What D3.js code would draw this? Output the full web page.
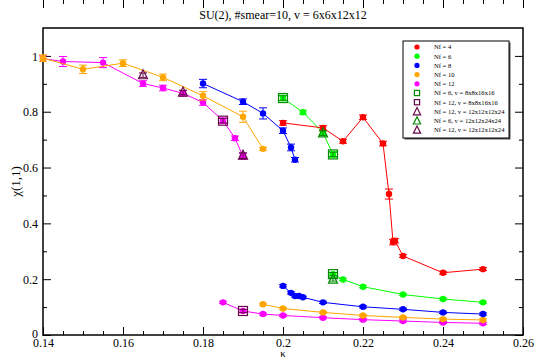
<!DOCTYPE html>
<html>
<head>
<meta charset="utf-8">
<script src="https://cdn.jsdelivr.net/npm/d3@7"></script>
<style>
  body { margin: 0; background: #fff; }
  text { font-family: "Liberation Serif", "Times New Roman", "DejaVu Serif", serif; }
</style>
</head>
<body>
<div id="chart"></div>
<script>
// chart values
var nf4K = [0.2, 0.21, 0.215, 0.22, 0.225, 0.2265, 0.2275, 0.228, 0.23, 0.24, 0.25];
var nf4Chi = [0.76, 0.742, 0.694, 0.78, 0.686, 0.505, 0.333, 0.338, 0.283, 0.223, 0.236];
var nf4Err = [0.008, 0.008, 0.007, 0.008, 0.008, 0.018, 0.01, 0.008, 0.005, 0.005, 0.005];

var nf6UpK = [0.2, 0.205, 0.21, 0.2125];
var nf6UpChi = [0.849, 0.798, 0.725, 0.647];
var nf6UpErr = [0.01, 0.007, 0.008, 0.01];
var nf6LoK = [0.2125, 0.215, 0.22, 0.23, 0.24, 0.25];
var nf6LoChi = [0.218, 0.199, 0.173, 0.145, 0.129, 0.117];

var nf8UpK = [0.18, 0.19, 0.195, 0.2, 0.202, 0.203];
var nf8UpChi = [0.901, 0.836, 0.794, 0.732, 0.672, 0.628];
var nf8UpErr = [0.015, 0.01, 0.02, 0.01, 0.012, 0.008];
var nf8LoK = [0.2, 0.202, 0.203, 0.204, 0.205, 0.21, 0.22, 0.23, 0.24, 0.25];
var nf8LoChi = [0.176, 0.151, 0.14, 0.14, 0.135, 0.117, 0.101, 0.092, 0.081, 0.075];

var nf10UpK = [0.14, 0.15, 0.16, 0.17, 0.18, 0.19, 0.195];
var nf10UpChi = [0.992, 0.952, 0.974, 0.923, 0.857, 0.782, 0.667];
var nf10UpErr = [0.012, 0.015, 0.012, 0.012, 0.015, 0.02, 0.005];
var nf10LoK = [0.195, 0.2, 0.21, 0.22, 0.23, 0.24, 0.25];
var nf10LoChi = [0.11, 0.095, 0.081, 0.07, 0.063, 0.057, 0.054];

var nf12UpK = [0.14, 0.145, 0.155, 0.165, 0.17, 0.175, 0.18, 0.185, 0.188, 0.19];
var nf12UpChi = [0.99, 0.98, 0.976, 0.901, 0.885, 0.866, 0.833, 0.768, 0.705, 0.64];
var nf12UpErr = [0.01, 0.018, 0.018, 0.01, 0.01, 0.01, 0.01, 0.01, 0.008, 0.01];
var nf12LoK = [0.185, 0.19, 0.195, 0.2, 0.21, 0.22, 0.23, 0.24, 0.25];
var nf12LoChi = [0.117, 0.086, 0.075, 0.07, 0.062, 0.055, 0.05, 0.045, 0.042];

// larger volumes (open symbols)
var sq6K = [0.2, 0.2125, 0.2125];
var sq6Chi = [0.849, 0.647, 0.218];
var sq12K = [0.185, 0.19];
var sq12Chi = [0.768, 0.086];
var tri12K = [0.165, 0.175, 0.19];
var tri12Chi = [0.931, 0.869, 0.643];
var tri6K = [0.21, 0.2125];
var tri6Chi = [0.723, 0.199];

var legendLabels = ["Nf = 4", "Nf = 6", "Nf = 8", "Nf = 10", "Nf = 12",
    "Nf = 6, v = 8x8x16x16", "Nf = 12, v = 8x8x16x16", "Nf = 12, v = 12x12x12x24",
    "Nf = 6, v = 12x12x24x24", "Nf = 12, v = 12x12x12x24"];

var xTicks = [0.14, 0.16, 0.18, 0.2, 0.22, 0.24, 0.26];
var yTicks = [0, 0.2, 0.4, 0.6, 0.8, 1];

var red = "#ff0000", green = "#00ff00", blue = "#0000ff", orange = "#ffa500",
    magenta = "#ff00ff", green4 = "#008b00", maroon = "#670748";
var serif = "'Liberation Serif', 'Times New Roman', 'DejaVu Serif', serif";

var svgWidth = 535;
var svgHeight = 359;
var margin = { top: 28, right: 12, bottom: 24, left: 43 };

var svg = d3.select("#chart")
    .append("svg")
    .attr("width", svgWidth)
    .attr("height", svgHeight)
    .attr("font-family", serif);

var x = d3.scaleLinear().domain([0.14, 0.26]).range([margin.left, svgWidth - margin.right]);
var y = d3.scaleLinear().domain([0, 1.1]).range([svgHeight - margin.bottom, margin.top]);

// frame
svg.append("rect")
    .attr("x", x(0.14)).attr("y", y(1.1))
    .attr("width", x(0.26) - x(0.14)).attr("height", y(0) - y(1.1))
    .attr("fill", "none").attr("stroke", "#000").attr("stroke-width", 1.5);

// ticks, pointing inwards on all four sides
var minorX = d3.range(0.145, 0.26, 0.005).filter(d => Math.abs(d * 100 / 2 - Math.round(d * 100 / 2)) > 0.01);
var minorY = [0.1, 0.3, 0.5, 0.7, 0.9];

function tickAxis(axisFn, scale, values, size, pos, labels) {
    var g = svg.append("g")
        .attr("transform", pos)
        .call(axisFn(scale).tickValues(values).tickSize(-size).tickPadding(3)
            .tickFormat(labels ? d3.format("~g") : ""));
    g.attr("font-family", serif);
    g.select(".domain").remove();
    g.selectAll("line").attr("stroke", "#000");
    g.selectAll("text").attr("fill", "#000").style("font-size", "12px");
    return g;
}
var bottom = `translate(0,${y(0)})`, top = `translate(0,${y(1.1)})`;
var left = `translate(${x(0.14)},0)`, right = `translate(${x(0.26)},0)`;
tickAxis(d3.axisBottom, x, xTicks, 8, bottom, true);
tickAxis(d3.axisBottom, x, minorX, 4, bottom, false);
tickAxis(d3.axisTop, x, xTicks, 8, top, false);
tickAxis(d3.axisTop, x, minorX, 4, top, false);
var yl = tickAxis(d3.axisLeft, y, yTicks, 8, left, true);
yl.selectAll("text").attr("x", -5).attr("dy", d => d === 0 ? "0.2em" : "0.35em");
tickAxis(d3.axisLeft, y, minorY, 4, left, false);
tickAxis(d3.axisRight, y, yTicks, 8, right, false);
tickAxis(d3.axisRight, y, minorY, 4, right, false);

// titles
svg.append("text")
    .attr("x", (x(0.14) + x(0.26)) / 2).attr("y", 19)
    .attr("text-anchor", "middle").style("font-size", "12px")
    .text("SU(2), #smear=10, v = 6x6x12x12");
svg.append("text")
    .attr("x", (x(0.14) + x(0.26)) / 2).attr("y", 357)
    .attr("text-anchor", "middle").style("font-size", "11px")
    .text("κ");
svg.append("text")
    .attr("transform", `translate(20,${(y(0) + y(1.1)) / 2}) rotate(-90)`)
    .attr("text-anchor", "middle").style("font-size", "13px")
    .text("χ(1,1)");

function zip(ks, chis, errs) {
    return ks.map((k, i) => ({ k: k, chi: chis[i], err: errs ? errs[i] : 0.004 }));
}

var line = d3.line().x(d => x(d.k)).y(d => y(d.chi));
var plot = svg.append("g");

function errorBars(g, data, color) {
    var eb = g.append("g").attr("stroke", color).attr("stroke-width", 1);
    data.forEach(function(d) {
        var cx = x(d.k), y1 = y(d.chi + d.err), y2 = y(d.chi - d.err);
        eb.append("line").attr("x1", cx).attr("x2", cx).attr("y1", y1).attr("y2", y2);
        eb.append("line").attr("x1", cx - 4).attr("x2", cx + 4).attr("y1", y1).attr("y2", y1);
        eb.append("line").attr("x1", cx - 4).attr("x2", cx + 4).attr("y1", y2).attr("y2", y2);
    });
}

function series(data, color) {
    var g = plot.append("g");
    g.append("path").datum(data)
        .attr("d", line).attr("fill", "none")
        .attr("stroke", color).attr("stroke-width", 1);
    errorBars(g, data, color);
    g.selectAll("circle").data(data).enter().append("circle")
        .attr("cx", d => x(d.k)).attr("cy", d => y(d.chi))
        .attr("r", 3.2).attr("fill", color);
}

function squareAt(g, cx, cy, s, color) {
    g.append("rect").attr("x", cx - s).attr("y", cy - s)
        .attr("width", 2 * s).attr("height", 2 * s)
        .attr("fill", "none").attr("stroke", color).attr("stroke-width", 1.2);
}
function triangleAt(g, cx, cy, s, color) {
    g.append("path")
        .attr("d", `M${cx},${cy - s * 1.2}L${cx + s},${cy + s * 0.8}L${cx - s},${cy + s * 0.8}Z`)
        .attr("fill", "none").attr("stroke", color).attr("stroke-width", 1.2);
}

function openSeries(data, color, shape) {
    var g = plot.append("g");
    errorBars(g, data, color);
    data.forEach(d => shape(g, x(d.k), y(d.chi), 4.5, color));
}

series(zip(nf12UpK, nf12UpChi, nf12UpErr), magenta);
series(zip(nf12LoK, nf12LoChi), magenta);
series(zip(nf10UpK, nf10UpChi, nf10UpErr), orange);
series(zip(nf10LoK, nf10LoChi), orange);
series(zip(nf8UpK, nf8UpChi, nf8UpErr), blue);
series(zip(nf8LoK, nf8LoChi), blue);
series(zip(nf6UpK, nf6UpChi, nf6UpErr), green);
series(zip(nf6LoK, nf6LoChi), green);
series(zip(nf4K, nf4Chi, nf4Err), red);

openSeries(zip(sq6K, sq6Chi, [0.008, 0.008, 0.006]), green4, squareAt);
openSeries(zip(sq12K, sq12Chi, [0.008, 0.006]), maroon, squareAt);
openSeries(zip(tri12K, tri12Chi, [0.008, 0.008, 0.01]), maroon, triangleAt);
openSeries(zip(tri6K, tri6Chi, [0.008, 0.006]), green4, triangleAt);

// legend
var legend = svg.append("g").attr("transform", "translate(403,41)");
legend.append("rect").attr("x", 1.5).attr("y", 1.5).attr("width", 106).attr("height", 97).attr("fill", "#555");
legend.append("rect").attr("width", 106).attr("height", 97)
    .attr("fill", "#fff").attr("stroke", "#000").attr("stroke-width", 1);
var legendColors = [red, green, blue, orange, magenta, green4, maroon, maroon, green4, maroon];
legendLabels.forEach(function(label, i) {
    var ly = 6 + i * 9.2;
    if (i < 5) {
        legend.append("circle").attr("cx", 14).attr("cy", ly).attr("r", 2.6).attr("fill", legendColors[i]);
    } else if (i < 7) {
        squareAt(legend, 14, ly, 2.6, legendColors[i]);
    } else {
        triangleAt(legend, 14, ly + 0.5, 3.6, legendColors[i]);
    }
    legend.append("text").attr("x", 31).attr("y", ly + 2.4)
        .style("font-size", "6.6px").text(label);
});
</script>
</body>
</html>
